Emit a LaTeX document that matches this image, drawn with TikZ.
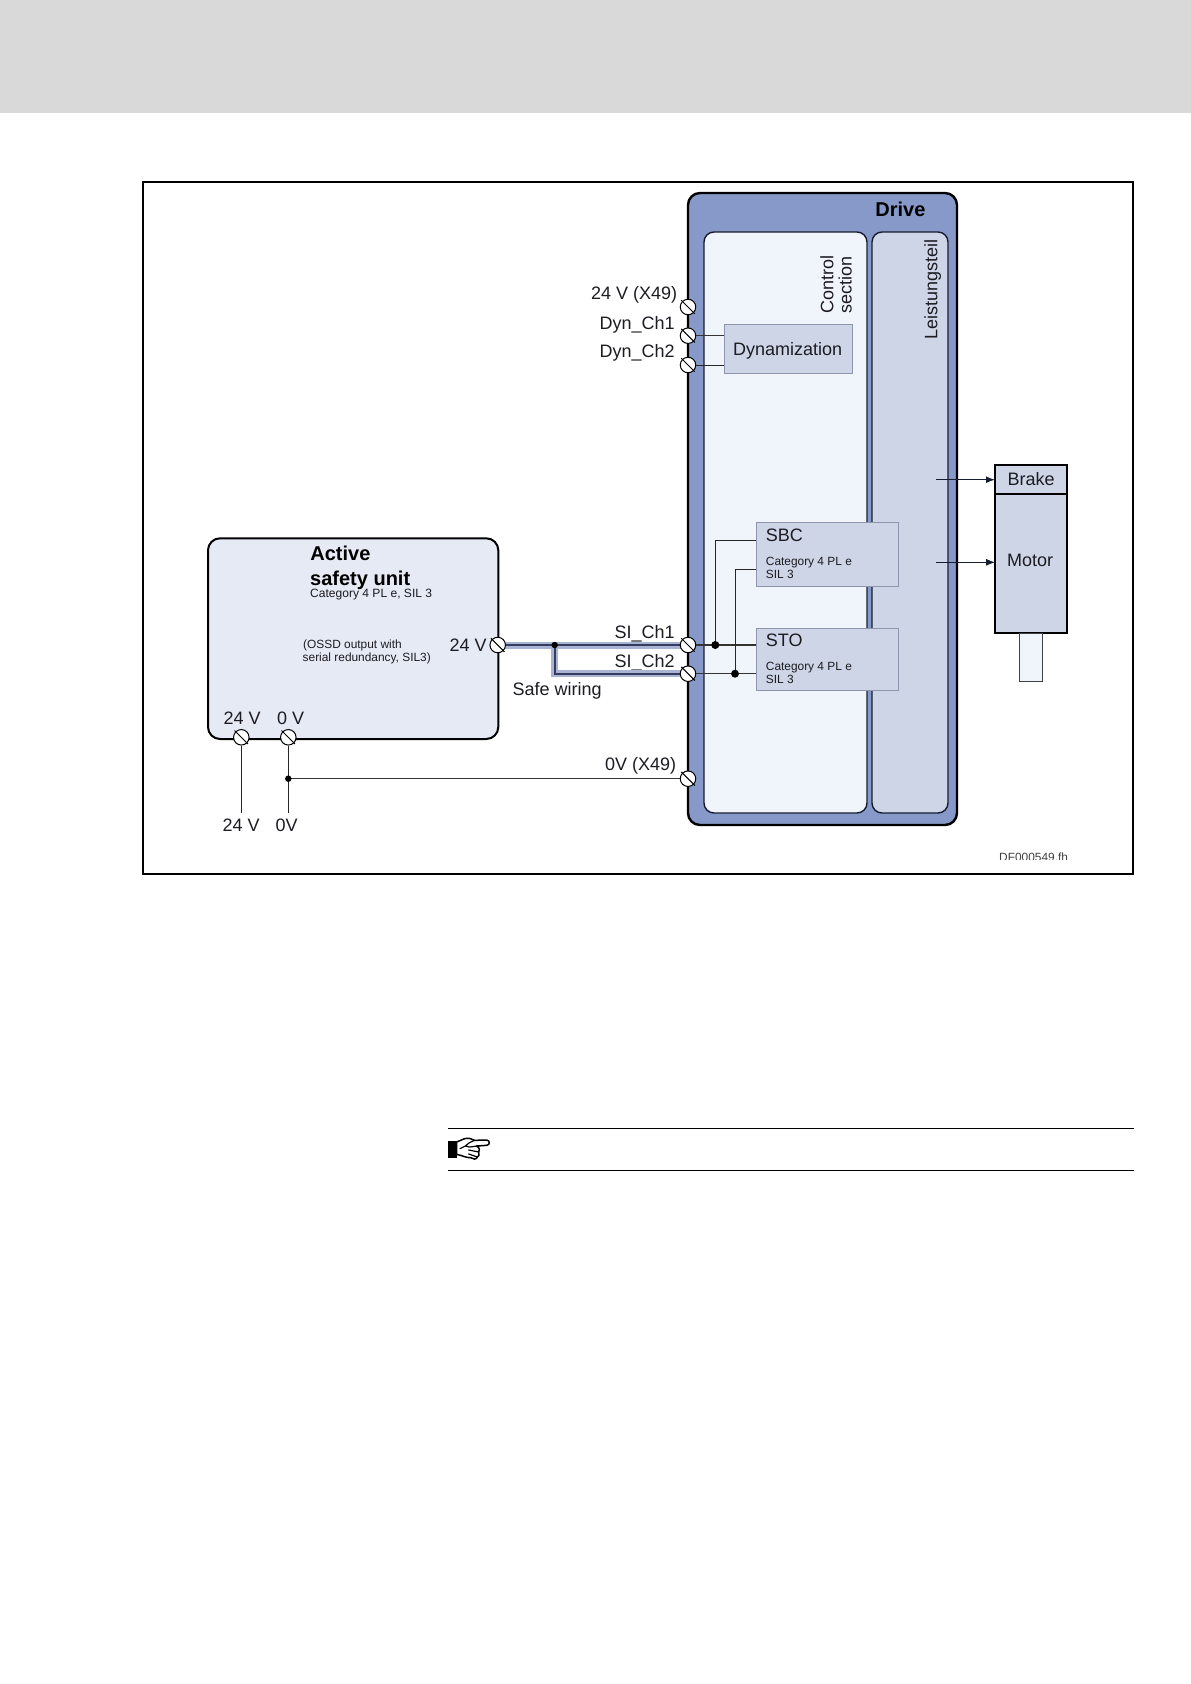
\documentclass[tikz,border=0pt]{standalone}
\usepackage{fontspec}
\setmainfont{Liberation Sans}
\usetikzlibrary{arrows.meta}
\definecolor{hdr}{HTML}{D9D9D9}
\definecolor{drivefill}{HTML}{8799C8}
\definecolor{ctrlfill}{HTML}{F0F4FB}
\definecolor{powerfill}{HTML}{CDD5E7}
\definecolor{unitfill}{HTML}{E6EAF5}
\definecolor{navy}{HTML}{171C30}
\definecolor{edgegray}{HTML}{8E96AD}
\definecolor{halo}{HTML}{A9B4D4}
\definecolor{wirecore}{HTML}{333C5E}
\definecolor{ink}{HTML}{1C1C22}
\tikzset{
  lbl/.style={inner sep=0,anchor=base west,text=ink,font=\fontsize{18}{20}\selectfont},
  lblbold/.style={lbl,font=\fontsize{20}{22}\selectfont\bfseries,text=black},
  lblsmall/.style={lbl,font=\fontsize{11.9}{14}\selectfont},
  vlbl/.style={lbl,rotate=90},
  boxbase/.style={anchor=north west,inner sep=0,outer sep=0},
  drivebox/.style={boxbase,draw=black,line width=2.4pt,fill=drivefill,rounded corners=12},
  ctrlbox/.style={boxbase,draw=navy,line width=1.4pt,fill=ctrlfill,rounded corners=10},
  powerbox/.style={boxbase,draw=navy,line width=1.4pt,fill=powerfill,rounded corners=10},
  unitbox/.style={boxbase,draw=black,line width=2pt,fill=unitfill,rounded corners=12},
  funcbox/.style={boxbase,draw=edgegray,line width=1pt,fill=powerfill},
  motorbox/.style={boxbase,draw=black,line width=2pt,fill=powerfill},
  shaftbox/.style={boxbase,draw=black!75,line width=.9pt,fill=ctrlfill},
  termnode/.style={circle,draw=black,line width=1pt,fill=white,minimum size=15.5,inner sep=0},
  wire/.style={draw=black!80,line width=1.2pt},
  thinwire/.style={draw=black!85,line width=.9pt},
  dotnode/.style={circle,fill=black,minimum size=6.5,inner sep=0},
  dotbig/.style={circle,fill=black,minimum size=8,inner sep=0},
  tip/.style={-{Latex[length=9pt,width=7pt]}}
}
\newcommand{\terminal}[3]{%
  \node[termnode] (#1) at (#2,#3) {};
  \draw[black,line width=1pt] ([shift={(-6.8,-6.8)}]#1.center) -- ([shift={(6.8,6.8)}]#1.center);
}
\begin{document}
\begin{tikzpicture}[x=1pt,y=-1pt]
\useasboundingbox (0,0) rectangle (1191,1684);
\fill[white] (0,0) rectangle (1191,1684);
\fill[hdr] (0,0) rectangle (1191,113);
% frame
\draw[black,line width=2pt] (143,181.5) rectangle (1132.5,874);
% drive
\node[drivebox,minimum width=269,minimum height=632] (drive) at (688,193) {};
\node[ctrlbox,minimum width=163,minimum height=581] (ctrl) at (704,232) {};
\node[powerbox,minimum width=76,minimum height=581] (power) at (872,232) {};
\node[lblbold] (drivelbl) at (875.2,216.7) {Drive};
\node[vlbl] (ctrllbl1) at (833.3,313.3) {Control};
\node[vlbl] (ctrllbl2) at (851.7,313.3) {section};
\node[vlbl] (powerlbl) at (937.3,339.5) {Leistungsteil};
% function boxes
\node[funcbox,minimum width=128,minimum height=48.6] (dyn) at (724.3,324.7) {};
\node[funcbox,minimum width=141.7,minimum height=63.6] (sbc) at (756.3,522.7) {};
\node[funcbox,minimum width=141.7,minimum height=62] (sto) at (756.3,628) {};
\node[lbl] (dynlbl) at (733,355.7) {Dynamization};
\node[lbl] (sbclbl) at (765.7,541.7) {SBC};
\node[lblsmall] (sbccat) at (765.7,565.7) {Category 4 PL e};
\node[lblsmall] (sbcsil) at (765.7,578.3) {SIL 3};
\node[lbl] (stolbl) at (765.7,646.3) {STO};
\node[lblsmall] (stocat) at (765.7,670.3) {Category 4 PL e};
\node[lblsmall] (stosil) at (765.7,683) {SIL 3};
% unit
\node[unitbox,minimum width=290.3,minimum height=200.7] (unit) at (208,538.3) {};
\node[lblbold] (act1) at (310.2,560.7) {Active};
\node[lblbold] (act2) at (310,585.3) {safety unit};
\node[lblsmall,font=\fontsize{12.05}{14}\selectfont] (actcat) at (310,597.3) {Category 4 PL e, SIL 3};
\node[lblsmall] (oss1) at (303,648.3) {(OSSD output with};
\node[lblsmall] (oss2) at (302.5,661) {serial redundancy, SIL3)};
% motor
\node[motorbox,minimum width=72.3,minimum height=29.3] (brake) at (995,464.7) {};
\node[motorbox,minimum width=72.3,minimum height=139] (motor) at (995,494) {};
\node[shaftbox,minimum width=23,minimum height=48.3] (shaft) at (1019.7,633) {};
\node[lbl] (brakelbl) at (1007.5,485) {Brake};
\node[lbl] (motorlbl) at (1007,566) {Motor};
% terminals
\terminal{tx}{688}{307}
\terminal{tdyna}{688}{335.7}
\terminal{tdynb}{688}{365}
\terminal{tzero}{688}{778.7}
\terminal{tua}{241.3}{737.3}
\terminal{tub}{288.3}{737.3}
% terminal labels
\node[lbl] (ltx) at (591,299.3) {24 V (X49)};
\node[lbl] (ldyna) at (599.5,329) {Dyn\_Ch1};
\node[lbl] (ldynb) at (599.5,357.3) {Dyn\_Ch2};
\node[lbl] (lsia) at (614.5,638.7) {SI\_Ch1};
\node[lbl] (lsib) at (614.5,667.3) {SI\_Ch2};
\node[lbl] (lsafe) at (512.5,695.3) {Safe wiring};
\node[lbl] (lzero) at (605,770.7) {0V (X49)};
\node[lbl] (lout) at (449.5,651) {24 V};
\node[lbl] (lua) at (223.5,724) {24 V};
\node[lbl] (lub) at (277,724) {0 V};
\node[lbl] (lbota) at (222.5,831.7) {24 V};
\node[lbl] (lbotb) at (275.5,831.7) {0V};
% free ends and junctions
\coordinate (ua) at (241.3,812.7);
\coordinate (ub) at (288.3,812.7);
\coordinate (xout) at (497.7,645);
\coordinate (xsia) at (688,645);
\coordinate (xsib) at (688,673.7);
\coordinate (jsafe) at (554.7,645);
\coordinate (jsafeb) at (554.7,673.7);
\coordinate (jlow) at (288.3,778.7);
\coordinate (ja) at (715.3,645);
\coordinate (jb) at (735,673.7);
\coordinate (sbca) at (715.3,540);
\coordinate (sbcb) at (735,569.3);
\coordinate (arra) at (936,479.7);
\coordinate (arrb) at (936,562.3);
% safe wiring underneath its terminals
\draw[draw=halo,line width=7pt] (xout) -- (xsia);
\draw[draw=halo,line width=7pt] (jsafe) -- (jsafeb) -- (xsib);
\draw[draw=wirecore,line width=2pt] (xout) -- (xsia);
\draw[draw=wirecore,line width=2pt] (jsafe) -- (jsafeb) -- (xsib);
\terminal{tout}{497.7}{645}
\terminal{tsia}{688}{645}
\terminal{tsib}{688}{673.7}
% wires
\draw[thinwire] (tua) -- (ua);
\draw[thinwire] (tub) -- (ub);
\draw[wire] (jlow) -- (tzero);
\draw[wire] (tdyna) -- (tdyna -| dyn.west);
\draw[thinwire] (tdynb) -- (tdynb -| dyn.west);
\draw[wire] (tsia) -- (tsia -| sto.west);
\draw[wire] (tsib) -- (tsib -| sto.west);
\draw[thinwire] (ja) -- (sbca) -- (sbc.west |- sbca);
\draw[thinwire] (jb) -- (sbcb) -- (sbc.west |- sbcb);
\draw[draw=navy,line width=1.3pt,tip] (arra) -- (brake.west |- arra);
\draw[draw=navy,line width=.8pt,tip] (arrb) -- (motor.west |- arrb);
\node[dotnode] (dsafe) at (jsafe) {};
\node[dotnode] (dlow) at (jlow) {};
\node[dotbig] (da) at (ja) {};
\node[dotbig] (db) at (jb) {};
% file name clipped at the bottom
\begin{scope}
\clip (990,840) rectangle (1080,859);
\node[lblsmall,text=black!75] (fname) at (999,861) {DF000549.fh};
\end{scope}
% note block
\coordinate (rulea) at (448,1128.3);
\coordinate (ruleb) at (1134,1128.3);
\coordinate (rulec) at (448,1170.3);
\coordinate (ruled) at (1134,1170.3);
\draw[black,line width=1pt] (rulea) -- (ruleb);
\draw[black,line width=1pt] (rulec) -- (ruled);
% pointing hand
\begin{scope}[shift={(430,1110)},x=0.3333pt,y=-0.3333pt,line join=round,line cap=round]
\fill[black] (55,92) rectangle (80,145);
\draw[black,line width=1.5pt,fill=white] (80,96) -- (104,86) .. controls (115,83) and (125,86) .. (134,91) -- (170,90) .. controls (180,91) and (181,105) .. (170,106) -- (140,108) .. controls (150,114) and (150,122) .. (146,126) .. controls (150,134) and (146,140) .. (142,141) .. controls (140,149) and (128,149) .. (122,143) .. controls (110,144) and (95,136) .. (80,133) -- cycle;
\draw[black,line width=1.2pt] (134,91) .. controls (122,96) and (112,100) .. (106,108) .. controls (112,112) and (120,112) .. (140,108);
\draw[black,line width=1.2pt] (146,126) -- (116,120);
\draw[black,line width=1.2pt] (142,141) -- (116,132);
\draw[black,line width=1.2pt] (106,108) -- (90,116);
\end{scope}
\end{tikzpicture}
\end{document}
